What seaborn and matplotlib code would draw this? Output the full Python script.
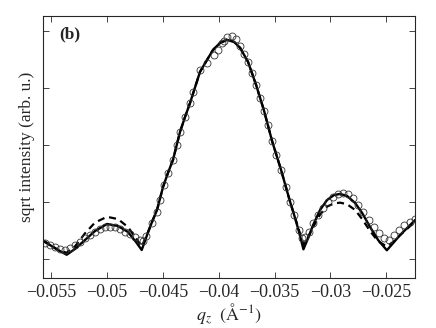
import numpy as np
import pandas as pd
import seaborn as sns
import matplotlib
matplotlib.use("Agg")
import matplotlib.pyplot as plt

# measured data (open circles)
q_meas = [-0.05556, -0.05512, -0.05467, -0.05422, -0.05377, -0.05332, -0.05288, -0.05243,
          -0.05198, -0.05153, -0.05108, -0.05064, -0.05019, -0.04974, -0.04929, -0.04884,
          -0.04840, -0.04795, -0.04750, -0.04705, -0.04678, -0.04651, -0.04600, -0.04556,
          -0.04526, -0.04490, -0.04455, -0.04410, -0.04374, -0.04347, -0.04302, -0.04257,
          -0.04230, -0.04168, -0.04105, -0.04042, -0.04006, -0.03970, -0.03952, -0.03925,
          -0.03880, -0.03845, -0.03809, -0.03773, -0.03738, -0.03702, -0.03666, -0.03630,
          -0.03594, -0.03559, -0.03523, -0.03487, -0.03442, -0.03397, -0.03361, -0.03323,
          -0.03284, -0.03254, -0.03224, -0.03194, -0.03158, -0.03113, -0.03068, -0.03024,
          -0.02979, -0.02934, -0.02889, -0.02844, -0.02799, -0.02755, -0.02710, -0.02651,
          -0.02606, -0.02561, -0.02516, -0.02472, -0.02427, -0.02382, -0.02337, -0.02292,
          -0.02247]
i_meas = [0.275, 0.246, 0.211, 0.175, 0.158, 0.193, 0.246, 0.298,
          0.368, 0.421, 0.474, 0.526, 0.561, 0.561, 0.561, 0.526,
          0.474, 0.439, 0.386, 0.333, 0.316, 0.404, 0.632, 0.825,
          1.035, 1.298, 1.509, 1.737, 2.000, 2.228, 2.491, 2.737,
          2.930, 3.316, 3.440, 3.580, 3.667, 3.789, 3.830, 3.900,
          3.910, 3.860, 3.740, 3.600, 3.460, 3.260, 3.050, 2.830,
          2.600, 2.350, 2.070, 1.830, 1.560, 1.263, 1.005, 0.772,
          0.509, 0.368, 0.386, 0.479, 0.632, 0.772, 0.895, 1.005,
          1.093, 1.135, 1.153, 1.135, 1.065, 0.947, 0.830, 0.684,
          0.567, 0.451, 0.363, 0.333, 0.421, 0.509, 0.596, 0.654,
          0.696]

# model fits
q_fit = [-0.05574, -0.05512, -0.05440, -0.05362, -0.05288, -0.05198, -0.05108, -0.05001,
         -0.04902, -0.04813, -0.04741, -0.04690, -0.04642, -0.04598, -0.04553, -0.04499,
         -0.04455, -0.04410, -0.04347, -0.04302, -0.04257, -0.04168, -0.04105, -0.04051,
         -0.03988, -0.03926, -0.03863, -0.03809, -0.03738, -0.03666, -0.03594, -0.03523,
         -0.03442, -0.03361, -0.03325, -0.03281, -0.03242, -0.03200, -0.03155, -0.03093,
         -0.03030, -0.02967, -0.02913, -0.02851, -0.02779, -0.02716, -0.02645, -0.02573,
         -0.02495, -0.02438, -0.02376, -0.02313, -0.02241]
i_fit1 = [0.316, 0.246, 0.158, 0.075, 0.175, 0.333, 0.491, 0.614,
          0.579, 0.474, 0.298, 0.158, 0.421, 0.649, 0.860, 1.263,
          1.509, 1.737, 2.228, 2.491, 2.737, 3.281, 3.491, 3.667,
          3.789, 3.842, 3.807, 3.702, 3.456, 3.053, 2.596, 2.070,
          1.561, 1.000, 0.772, 0.474, 0.170, 0.368, 0.596, 0.860,
          1.035, 1.123, 1.140, 1.105, 0.982, 0.807, 0.561, 0.333,
          0.153, 0.281, 0.421, 0.544, 0.684]
i_fit2 = [0.330, 0.250, 0.160, 0.110, 0.220, 0.450, 0.640, 0.740,
          0.700, 0.560, 0.360, 0.220, 0.430, 0.649, 0.860, 1.263,
          1.509, 1.737, 2.228, 2.491, 2.737, 3.281, 3.491, 3.667,
          3.789, 3.842, 3.807, 3.702, 3.456, 3.053, 2.596, 2.070,
          1.561, 1.000, 0.780, 0.500, 0.250, 0.380, 0.560, 0.780,
          0.920, 0.975, 0.988, 0.960, 0.860, 0.700, 0.490, 0.310,
          0.220, 0.300, 0.420, 0.530, 0.660]

sns.set_style("ticks")
plt.rcParams['font.family'] = ['Liberation Serif', 'DejaVu Serif']
plt.rcParams['mathtext.fontset'] = 'stix'

fig = plt.figure(figsize=(4.36, 3.28), dpi=100)
ax = fig.add_axes([0.0986, 0.1524, 0.8532, 0.7988])

meas = pd.DataFrame({"q": q_meas, "i": i_meas})
fit = pd.DataFrame({"q": q_fit, "i1": i_fit1, "i2": i_fit2})

sns.lineplot(data=fit, x="q", y="i2", ax=ax, estimator=None, sort=False,
             color="black", lw=1.6, linestyle=(0, (3.2, 2.2)))
sns.lineplot(data=fit, x="q", y="i1", ax=ax, estimator=None, sort=False,
             color="black", lw=1.7)
ax.plot(meas["q"], meas["i"], linestyle="none", marker="o", markersize=5,
        markerfacecolor="none", markeredgecolor="#333333", markeredgewidth=0.6)

ax.set_xlim(-0.05574, -0.02243)
ax.set_ylim(-0.333, 4.26)
ax.set_xticks([-0.055, -0.05, -0.045, -0.04, -0.035, -0.03, -0.025])
ax.set_xticklabels(["\u22120.055", "\u22120.05", "\u22120.045", "\u22120.04",
                    "\u22120.035", "\u22120.03", "\u22120.025"])
ax.set_yticks([0, 1, 2, 3, 4])
ax.set_yticklabels([])
ax.tick_params(direction="in", top=True, right=True, length=4, width=0.6,
               labelsize=13, pad=4)
for s in ax.spines.values():
    s.set_linewidth(0.8)

ax.set_xlabel(r"$q_z\ \ (\mathrm{\AA}^{-1})$", fontsize=13, labelpad=1)
ax.set_ylabel("sqrt intensity (arb. u.)", fontsize=12.5, labelpad=2)
ax.text(0.045, 0.93, "(b)", transform=ax.transAxes, fontsize=12.5,
        fontweight="bold", va="center", ha="left")

fig.savefig("out.png", dpi=100)
